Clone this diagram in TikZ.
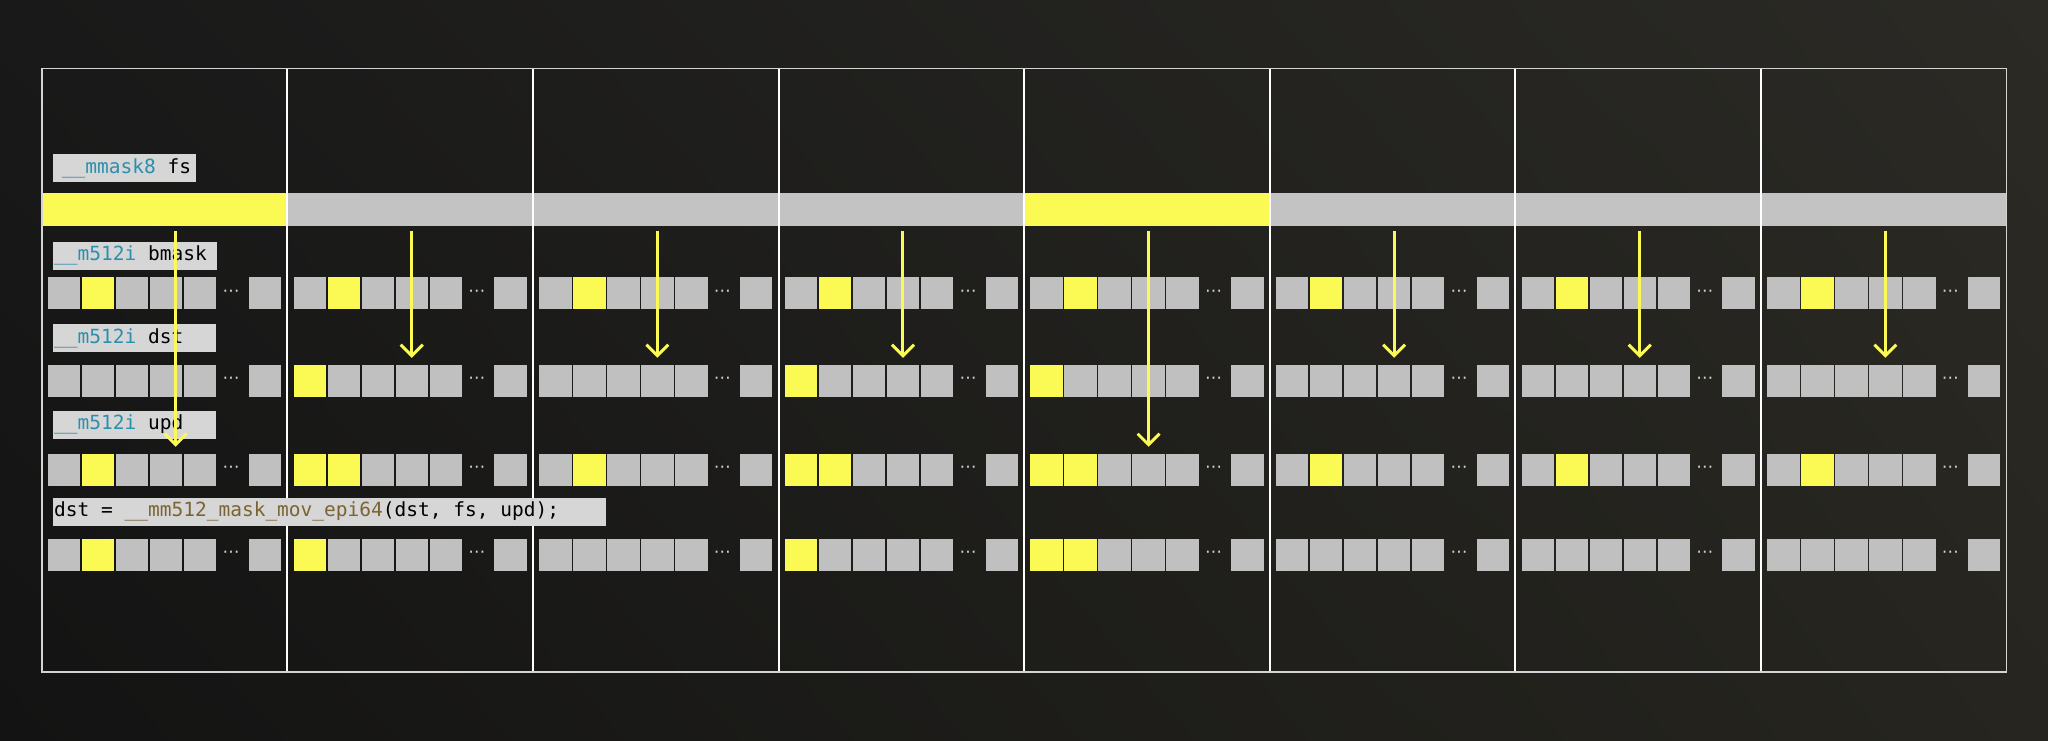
\documentclass[tikz,border=0pt]{standalone}
\usepackage{fontspec}
\setmonofont{DejaVu Sans Mono}
\newfontfamily\dotsfont{DejaVu Sans}
\usetikzlibrary{arrows.meta,shadings}

\definecolor{hiyellow}{HTML}{FBFA55}
\definecolor{cellgrey}{HTML}{C0C0C0}
\definecolor{bargrey}{HTML}{C3C3C3}
\definecolor{boxgrey}{HTML}{D6D6D6}
\definecolor{typeteal}{HTML}{2C8FAD}
\definecolor{fnbrown}{HTML}{7A6434}
\definecolor{framegrey}{HTML}{D4D4D4}
\definecolor{bgul}{HTML}{191919}
\definecolor{bgll}{HTML}{131313}
\definecolor{bgur}{HTML}{2B2A25}
\definecolor{bglr}{HTML}{26251F}

\begin{document}
\begin{tikzpicture}[x=1pt,y=-1pt,
    cell/.style={minimum width=32.5pt,minimum height=32.5pt,inner sep=0pt,
      anchor=north west,fill=cellgrey},
    barpart/.style={minimum width=245.6pt,minimum height=33.7pt,inner sep=0pt,
      anchor=north west},
    ellip/.style={inner sep=0pt,text=framegrey,font=\dotsfont\fontsize{17}{17}\selectfont},
    codebox/.style={fill=boxgrey,inner sep=0pt,minimum height=28pt,anchor=west,
      text=black,font=\ttfamily\fontsize{19.5}{20}\selectfont},
    arr/.style={hiyellow,line width=3pt,shorten <=4.7pt,shorten >=6.5pt,
      -{Straight Barb[length=11pt,width=22pt]}}]
  % background
  \shade[upper left=bgul,upper right=bgur,lower left=bgll,lower right=bglr]
    (0,0) rectangle (2048,740);

  % the mask bits
  \foreach \k [count=\c from 0] in {1,0,0,0,1,0,0,0} {
    \ifnum\k=1 \def\bfill{hiyellow}\else\def\bfill{bargrey}\fi
    \node[barpart,fill=\bfill] (fs\c) at (41.7+245.6*\c,192.3) {};
  }

  % lanes: bm = bmask, ds = dst, up = upd, rs = result
  % code per lane: 0 none, 1 elem 1, 2 elem 0, 3 elems 0 and 1
  \foreach \r/\top/\codes in {bm/276.7/{1,1,1,1,1,1,1,1},
      ds/364.3/{0,2,0,2,2,0,0,0},
      up/453.3/{1,3,1,3,3,1,1,1},
      rs/538.3/{1,2,0,2,3,0,0,0}} {
    \foreach \k [count=\cc from 0] in \codes {
      \pgfmathsetmacro\L{41.7+245.6*\cc}
      \foreach \i in {0,...,4} {
        \pgfmathtruncatemacro\hot{((\i==0)&&(\k>1))||((\i==1)&&(mod(\k,2)==1))}
        \ifnum\hot=1 \def\cfill{hiyellow}\else\def\cfill{cellgrey}\fi
        \node[cell,fill=\cfill] (\r-\cc-\i) at (\L+6+34*\i,\top) {};
      }
      \node[ellip] (\r-\cc-dots) at (\L+189.5,\top+16.25) {⋯};
      \node[cell] (\r-\cc-last) at (\L+206.8,\top) {};
    }
  }

  % frame and lane borders
  \foreach \c in {1,...,7}
    \draw[white,line width=2pt] (41.7+245.6*\c,68.3) -- (41.7+245.6*\c,671.7);
  \draw[framegrey,line width=1.6pt] (41.7,68.3) rectangle (2006.5,671.7);

  % code labels
  \node[codebox] (fslbl) at (52.7,168.4)
    {\makebox[143pt][l]{\hspace{9pt}\textcolor{typeteal}{\_\_mmask8} fs}};
  \node[codebox] (bmlbl) at (52.7,255.5)
    {\makebox[164pt][l]{\hspace{1.3pt}\textcolor{typeteal}{\_\_m512i} bmask}};
  \node[codebox] (dslbl) at (52.7,338)
    {\makebox[163pt][l]{\hspace{1.3pt}\textcolor{typeteal}{\_\_m512i} dst}};
  \node[codebox] (uplbl) at (52.7,424.5)
    {\makebox[163pt][l]{\hspace{1.3pt}\textcolor{typeteal}{\_\_m512i} upd}};
  \node[codebox] (calllbl) at (52.7,511.7)
    {\makebox[552.6pt][l]{\hspace{1.3pt}dst = \textcolor{fnbrown}{\_\_mm512\_mask\_mov\_epi64}(dst, fs, upd);}};

  % where each mask bit sends its lane
  \foreach \c/\t/\dx in {0/up/9.5,1/ds/0,2/ds/0,3/ds/0,4/up/0,5/ds/0,6/ds/0,7/ds/0}
    \draw[arr] ([xshift=\dx pt]\t-\c-3.north |- fs\c.south)
      -- ([xshift=\dx pt]\t-\c-3.north);
\end{tikzpicture}
\end{document}
